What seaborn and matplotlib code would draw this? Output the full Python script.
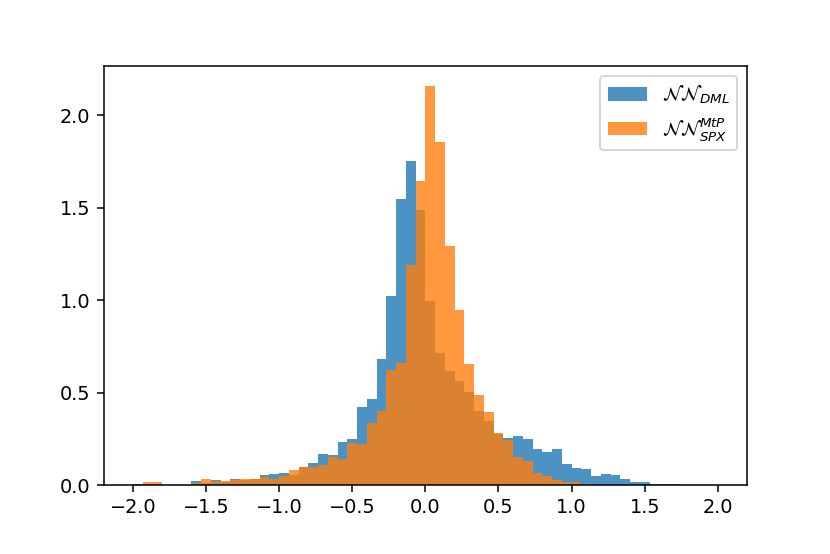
"""Overlaid density histograms of the two network errors (saved PNG, no display)."""

import matplotlib

matplotlib.use("Agg")
import matplotlib.pyplot as plt
import numpy as np
import pandas as pd
import seaborn as sns

# 60 equal bins on [-2, 2]
N_BINS = 60
BIN_RANGE = (-2.0, 2.0)

# density per bin, left to right
NN_DML = [
    0.003, 0.004, 0.004, 0.002, 0.001, 0.002, 0.020, 0.013, 0.027, 0.015,
    0.032, 0.028, 0.034, 0.054, 0.059, 0.063, 0.055, 0.096, 0.117, 0.167,
    0.162, 0.233, 0.248, 0.423, 0.465, 0.681, 1.022, 1.550, 1.755, 1.488,
    0.996, 0.717, 0.616, 0.562, 0.505, 0.400, 0.348, 0.276, 0.257, 0.266,
    0.248, 0.194, 0.177, 0.195, 0.115, 0.092, 0.085, 0.050, 0.058, 0.052,
    0.031, 0.015, 0.015, 0.004, 0.003, 0.006, 0.002, 0.001, 0.001, 0.001,
]
NN_SPX = [
    0.001, 0.015, 0.015, 0.002, 0.001, 0.002, 0.010, 0.031, 0.020, 0.020,
    0.027, 0.030, 0.034, 0.041, 0.031, 0.049, 0.079, 0.095, 0.095, 0.108,
    0.149, 0.143, 0.225, 0.222, 0.333, 0.400, 0.622, 0.663, 1.189, 1.645,
    2.157, 1.854, 1.292, 0.946, 0.654, 0.486, 0.393, 0.279, 0.245, 0.152,
    0.131, 0.065, 0.050, 0.029, 0.016, 0.018, 0.003, 0.001, 0.001, 0.001,
    0.000, 0.000, 0.000, 0.000, 0.000, 0.000, 0.000, 0.000, 0.000, 0.000,
]

LABEL_DML = r"$\mathcal{N}\mathcal{N}_{DML}$"
LABEL_SPX = r"$\mathcal{N}\mathcal{N}_{SPX}^{MtP}$"

DPI = 138.4
fig, ax = plt.subplots(figsize=(830 / DPI, 554 / DPI), dpi=DPI)
fig.subplots_adjust(left=0.125, right=0.9, top=0.88, bottom=0.1245)

edges = np.linspace(BIN_RANGE[0], BIN_RANGE[1], N_BINS + 1)
centers = 0.5 * (edges[:-1] + edges[1:])
for heights, color, label in [(NN_DML, "C0", LABEL_DML), (NN_SPX, "C1", LABEL_SPX)]:
    df = pd.DataFrame({"err": centers, "density": heights})
    sns.histplot(
        data=df,
        x="err",
        weights="density",
        bins=N_BINS,
        binrange=BIN_RANGE,
        stat="count",
        color=color,
        alpha=0.8,
        linewidth=0,
        edgecolor="none",
        label=label,
        ax=ax,
    )

ax.set_xlabel("")
ax.set_ylabel("")
ax.set_xticks(np.arange(-2.0, 2.01, 0.5))
ax.set_yticks([0.0, 0.5, 1.0, 1.5, 2.0])
ax.legend(loc="upper right")

fig.savefig("out.png", dpi=DPI)
plt.close(fig)
